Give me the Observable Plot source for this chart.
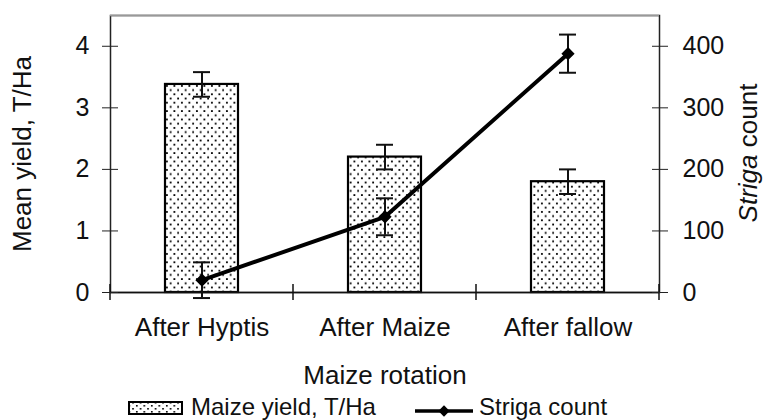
<!DOCTYPE html>
<html><head><meta charset="utf-8">
<script src="https://cdn.jsdelivr.net/npm/d3@7"></script>
<script src="https://cdn.jsdelivr.net/npm/@observablehq/plot@0.6"></script>
<style>
body{margin:0;background:#fff;}
#chart{width:765px;height:420px;position:relative;font-family:"Liberation Sans",Arial,Helvetica,sans-serif;}
#legend{position:absolute;left:0;top:392px;overflow:visible;}
</style></head><body><div id="chart"></div>
<script>
const rotations = ["After Hyptis", "After Maize", "After fallow"];
const yieldMean = [3.38, 2.2, 1.8];
const yieldErr = [0.2, 0.2, 0.2];
const strigaMean = [20, 123, 388];
const strigaErr = [29, 30, 31];
const yieldTicks = [0, 1, 2, 3, 4];
const strigaTicks = [0, 100, 200, 300, 400];
const strigaPerYieldUnit = 100; // right axis: 100 Striga = 1 T/Ha on the shared scale

const data = rotations.map((r, i) => ({
  r, y: yieldMean[i], ye: yieldErr[i],
  s: strigaMean[i] / strigaPerYieldUnit, se: strigaErr[i] / strigaPerYieldUnit
}));

const FS = 26;
const defs = () => {
  const d = d3.create("svg:defs");
  const p = d.append("pattern").attr("id", "dots").attr("patternUnits", "userSpaceOnUse")
    .attr("width", 7.5).attr("height", 8.4);
  p.append("rect").attr("width", 7.5).attr("height", 8.4).attr("fill", "white");
  p.append("rect").attr("x", 1).attr("y", 1).attr("width", 1.8).attr("height", 1.8).attr("fill", "#000");
  p.append("rect").attr("x", 4.75).attr("y", 5.2).attr("width", 1.8).attr("height", 1.8).attr("fill", "#000");
  return d.node();
};

const xBoundaryTicks = (index, scales) => {
  const x = scales.x, y = scales.y;
  const bw = typeof x.bandwidth === "function" ? x.bandwidth() : x.bandwidth;
  const xs = rotations.map(c => x(c));
  const step = xs[1] - xs[0];
  const gap = step - bw;
  const bounds = xs.map(v => v - gap / 2).concat([xs[xs.length - 1] + bw + gap / 2]);
  const g = d3.create("svg:g").attr("stroke", "#111").attr("stroke-width", 1.5);
  const y0 = y(0);
  bounds.forEach(b => g.append("line").attr("x1", b).attr("x2", b).attr("y1", y0 - 8).attr("y2", y0 + 8));
  return g.node();
};

const plot = Plot.plot({
  width: 765, height: 392,
  marginLeft: 110, marginRight: 106, marginTop: 15, marginBottom: 100,
  style: {fontFamily: '"Liberation Sans", Arial, Helvetica, sans-serif', fontSize: FS + "px", color: "#111", background: "white", overflow: "visible"},
  x: {domain: rotations, paddingInner: 0.6, paddingOuter: 0.3, axis: null},
  y: {domain: [0, 4.5], axis: null},
  marks: [
    defs,
    Plot.barY(data, {x: "r", y: "y", fill: "url(#dots)", stroke: "#000", strokeWidth: 2.2}),
    Plot.ruleX(data, {x: "r", y1: d => d.y - d.ye, y2: d => d.y + d.ye, stroke: "#111", strokeWidth: 2}),
    Plot.tickY(data, {x: "r", y: d => d.y + d.ye, insetLeft: 28, insetRight: 28, stroke: "#111", strokeWidth: 2}),
    Plot.tickY(data, {x: "r", y: d => d.y - d.ye, insetLeft: 28, insetRight: 28, stroke: "#111", strokeWidth: 2}),
    Plot.frame({stroke: "#222", strokeWidth: 1.5}),
    Plot.ruleY([4.5], {stroke: "#999", strokeWidth: 1.6}),
    Plot.ruleY([0], {stroke: "#111", strokeWidth: 1.6}),
    xBoundaryTicks,
    Plot.axisY({anchor: "left", ticks: yieldTicks, tickFormat: d => String(d), tickSize: 16, dx: 8, tickPadding: 13, label: null, fontSize: FS - 1, stroke: "#222", fill: "#111"}),
    Plot.axisY({anchor: "right", ticks: strigaTicks.map(v => v / strigaPerYieldUnit), tickFormat: v => String(Math.round(v * strigaPerYieldUnit)), tickSize: 16, dx: -8, tickPadding: 15, label: null, fontSize: FS - 1, stroke: "#222", fill: "#111"}),
    Plot.axisX({tickSize: 0, tickPadding: 25, label: null, fontSize: FS, fill: "#111"}),
    Plot.ruleX(data, {x: "r", y1: d => d.s - d.se, y2: d => d.s + d.se, stroke: "#111", strokeWidth: 2}),
    Plot.tickY(data, {x: "r", y: d => d.s + d.se, insetLeft: 28, insetRight: 28, stroke: "#111", strokeWidth: 2}),
    Plot.tickY(data, {x: "r", y: d => d.s - d.se, insetLeft: 28, insetRight: 28, stroke: "#111", strokeWidth: 2}),
    Plot.lineY(data, {x: "r", y: "s", stroke: "black", strokeWidth: 4}),
    Plot.dot(data, {x: "r", y: "s", symbol: "diamond2", r: 5, fill: "black", stroke: "black"}),
    Plot.text(["Mean yield, T/Ha"], {frameAnchor: "left", dx: -88, rotate: -90, textAnchor: "middle", lineAnchor: "middle", fontSize: FS, fill: "#111"}),
    Plot.text(["Maize rotation"], {frameAnchor: "bottom", dy: 83, lineAnchor: "middle", fontSize: FS, fill: "#111"})
  ]
});

// right axis title with italic genus name
const svg = d3.select(plot);
const t = svg.append("text")
  .attr("transform", "translate(748,153) rotate(-90)")
  .attr("text-anchor", "middle").attr("dy", "0.35em")
  .attr("font-size", FS).attr("fill", "#111");
t.append("tspan").attr("font-style", "italic").text("Striga");
t.append("tspan").text(" count");

const chart = document.getElementById("chart");
chart.appendChild(plot);

// legend below the plot
const LFS = 24;
const lg = d3.select(chart).append("svg").attr("id", "legend").attr("width", 765).attr("height", 28)
  .style("font-family", '"Liberation Sans", Arial, Helvetica, sans-serif');
const ld = lg.append("defs").append("pattern").attr("id", "dotsLegend").attr("patternUnits", "userSpaceOnUse")
  .attr("width", 7.5).attr("height", 6);
ld.append("rect").attr("width", 7.5).attr("height", 6).attr("fill", "white");
ld.append("rect").attr("x", 1).attr("y", 1).attr("width", 1.6).attr("height", 1.6).attr("fill", "#000");
ld.append("rect").attr("x", 4.75).attr("y", 4).attr("width", 1.6).attr("height", 1.6).attr("fill", "#000");
lg.append("rect").attr("x", 129).attr("y", 10).attr("width", 53).attr("height", 12).attr("fill", "url(#dotsLegend)").attr("stroke", "#000").attr("stroke-width", 2);
lg.append("text").attr("x", 191).attr("y", 22.5).attr("font-size", LFS).attr("fill", "#111").text("Maize yield, T/Ha");
lg.append("line").attr("x1", 415).attr("x2", 473).attr("y1", 19).attr("y2", 19).attr("stroke", "black").attr("stroke-width", 3.5);
lg.append("path").attr("d", d3.symbol(d3.symbolSquare, 64)()).attr("transform", "translate(444,19) rotate(45)").attr("fill", "black");
lg.append("text").attr("x", 479).attr("y", 22.5).attr("font-size", LFS).attr("fill", "#111").text("Striga count");
</script></body></html>
